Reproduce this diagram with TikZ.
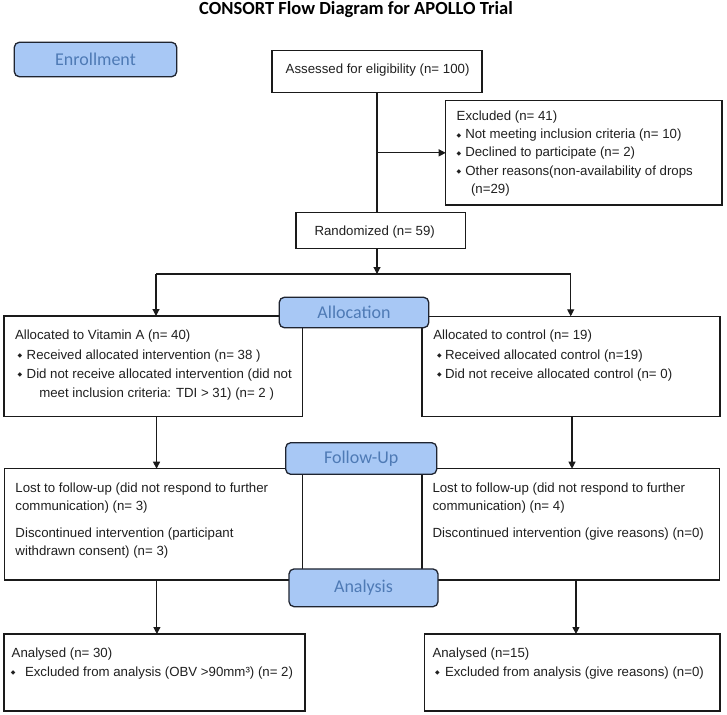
\documentclass[tikz,border=0pt]{standalone}
\usepackage{fontspec}
\setmainfont{Liberation Sans}
\newfontfamily\calfont{Carlito}
\newfontfamily\dejavu{DejaVu Sans}
\usetikzlibrary{arrows.meta}
\definecolor{stagefill}{HTML}{A8C8F5}
\definecolor{stagetext}{HTML}{4E7AB5}
\definecolor{stageborder}{HTML}{1F2430}
\definecolor{linec}{HTML}{1A1A1A}
\definecolor{textc}{HTML}{202020}
\newcommand\bl[1]{\llap{\makebox[0pt]{\raisebox{1.6pt}{\dejavu\fontsize{6}{6}\selectfont ◆}}\hspace{#1}}}
\tikzset{
  box/.style={draw=linec, line width=1.1pt, inner sep=0pt, outer sep=0pt, anchor=north west, rectangle},
  stage/.style={draw=stageborder, fill=stagefill, rounded corners=5pt, line width=1.3pt, text=stagetext,
    font=\calfont\fontsize{18}{18}\selectfont, inner sep=0pt, outer sep=0pt},
  txt/.style={anchor=base west, inner sep=0pt, outer sep=0pt, font=\fontsize{13.25}{16}\selectfont, text=textc},
  arr/.style={-{Triangle[length=7pt,width=7pt]}, line width=1.1pt, draw=linec},
  conn/.style={line width=1.1pt, draw=linec}
}
\begin{document}
\begin{tikzpicture}[x=1pt,y=-1pt]
\useasboundingbox[fill=white] (0,0) rectangle (727,714);

\node[anchor=base, inner sep=0pt, font=\calfont\bfseries\fontsize{18.5}{19}\selectfont, text=black] (title) at (356,15) {CONSORT Flow Diagram for APOLLO Trial};

% main boxes
\node[box, minimum width=210pt, minimum height=42pt] (assess) at (272,50.7) {};
\node[box, minimum width=276.3pt, minimum height=104.3pt] (excl) at (445.7,100.7) {};
\node[box, minimum width=169.3pt, minimum height=36pt] (rand) at (296,212.3) {};
\node[box, minimum width=298.7pt, minimum height=100.5pt] (allocL) at (4,316) {};
\node[box, minimum width=298pt, minimum height=100.5pt] (allocR) at (422,316.3) {};
\node[box, minimum width=298.2pt, minimum height=111.3pt] (fuL) at (4.5,468.7) {};
\node[box, minimum width=297.3pt, minimum height=111.3pt] (fuR) at (422,468.7) {};
\node[box, minimum width=301pt, minimum height=77pt] (anL) at (4,634) {};
\node[box, minimum width=295.5pt, minimum height=77pt] (anR) at (424.5,634) {};

% texts
\node[txt] (t1) at (285.7,73.5) {Assessed for eligibility (n= 100)};
\node[txt] (ex0) at (456.7,120.5) {Excluded (n= 41)};
\node[txt] (ex1) at (465.3,138.7) {\bl{6.3pt}Not meeting inclusion criteria (n= 10)};
\node[txt] (ex2) at (465.3,156.9) {\bl{6.3pt}Declined to participate (n= 2)};
\node[txt] (ex3) at (465.3,175.1) {\bl{6.3pt}Other reasons(non-availability of drops};
\node[txt] (ex4) at (471,193.3) {(n=29)};
\node[txt] (r1) at (314.5,235) {Randomized (n= 59)};

\node[txt] (al0) at (15,339.5) {Allocated to Vitamin A (n= 40)};
\node[txt] (al1) at (26.7,359) {\bl{6.7pt}Received allocated intervention (n= 38 )};
\node[txt] (al2) at (26.7,378.5) {\bl{6.7pt}Did not receive allocated intervention (did not};
\node[txt] (al3) at (39.3,397.5) {meet inclusion criteria: TDI > 31) (n= 2 )};
\node[txt] (ar0) at (433.3,339.5) {Allocated to control (n= 19)};
\node[txt] (ar1) at (445,359) {\bl{5.7pt}Received allocated control (n=19)};
\node[txt] (ar2) at (445,378.5) {\bl{5.7pt}Did not receive allocated control (n= 0)};

\node[txt] (fl0) at (15.5,492.5) {Lost to follow-up (did not respond to further};
\node[txt] (fl1) at (15.5,510) {communication) (n= 3)};
\node[txt] (fl2) at (15.5,537.5) {Discontinued intervention (participant};
\node[txt] (fl3) at (15.5,555) {withdrawn consent) (n= 3)};
\node[txt] (fr0) at (432.5,492.5) {Lost to follow-up (did not respond to further};
\node[txt] (fr1) at (432.5,510) {communication) (n= 4)};
\node[txt] (fr2) at (432.5,537.5) {Discontinued intervention (give reasons) (n=0)};

\node[txt] (nl0) at (11.7,657) {Analysed (n= 30)};
\node[txt] (nl1) at (25,676) {\bl{11.7pt}Excluded from analysis (OBV >90mm³) (n= 2)};
\node[txt] (nr0) at (432.5,657) {Analysed (n=15)};
\node[txt] (nr1) at (445,676) {\bl{7.5pt}Excluded from analysis (give reasons) (n=0)};

% connectors
\coordinate (split) at (377,274);
\coordinate (splitL) at (156,274);
\coordinate (splitR) at (570.7,274);
\draw[conn] (assess.south) -- (assess.south |- rand.north);
\draw[arr] (assess.south |- excl.west) -- (excl.west);
\draw[arr] (assess.south |- rand.south) -- (split);
\draw[conn] (splitL) -- (splitR);
\draw[arr] (splitL) -- (splitL |- allocL.north);
\draw[arr] (splitR) -- (splitR |- allocR.north);
\draw[arr] ([xshift=3.2pt]allocL.south) -- ([xshift=3.2pt]allocL.south |- fuL.north);
\draw[arr] ([xshift=1pt]allocR.south) -- ([xshift=1pt]allocR.south |- fuR.north);
\draw[arr] ([xshift=3.3pt]fuL.south) -- ([xshift=3.3pt]fuL.south |- anL.north);
\draw[arr] ([xshift=5.3pt]fuR.south) -- ([xshift=5.3pt]fuR.south |- anR.north);

% stage labels
\node[stage, minimum width=162.4pt, minimum height=34.4pt] (enroll) at (95.5,59.5) {Enrollment};
\node[stage, minimum width=149.4pt, minimum height=30.4pt] (allocS) at (354,312.5) {Allocation};
\node[stage, minimum width=151pt, minimum height=31.6pt] (followS) at (361.2,458.5) {Follow-Up};
\node[stage, minimum width=149pt, minimum height=37.7pt] (analysisS) at (363.5,587.8) {Analysis};
\end{tikzpicture}
\end{document}
